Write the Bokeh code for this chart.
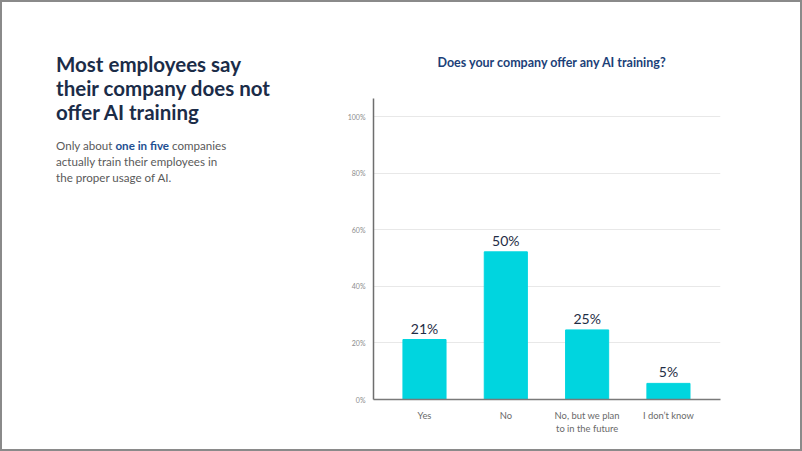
from bokeh.plotting import figure
from bokeh.layouts import row
from bokeh.models import Range1d, FixedTicker, Div
from bokeh.embed import file_html
from bokeh.resources import INLINE
from bokeh.core.properties import value

categories = ["Yes", "No", "No, but we plan\nto in the future", "I don\u2019t know"]
shares = [21.2, 52.2, 24.6, 5.7]
share_labels = ["21%", "50%", "25%", "5%"]
y_ticks = [0, 20, 40, 60, 80, 100]
headline = ["Most employees say", "their company does not", "offer AI training"]
chart_title = "Does your company offer any AI training?"
para_before, para_bold, para_after = "Only about ", "one in five", " companies"
para_rest = ["actually train their employees in", "the proper usage of AI."]
xs = list(range(len(categories)))

FONT = "Lato"
H = 451
LW = 300
RW = 502

# ---------------- left text panel ----------------
head_html = "<br>".join(headline)
para_html = (para_before + f'<b style="color:#1d4f91;font-weight:700">{para_bold}</b>'
             + para_after + "<br>" + "<br>".join(para_rest))
html = (
    f'<div style="position:relative;width:{LW}px;height:{H}px;font-family:{FONT};">'
    f'<div style="position:absolute;left:56px;top:53px;font-size:20.5px;line-height:23.8px;'
    f'font-weight:700;color:#1b2c48;white-space:nowrap;">{head_html}</div>'
    f'<div style="position:absolute;left:56px;top:137.5px;font-size:11.6px;line-height:16px;'
    f'color:#5a5a5a;white-space:nowrap;">{para_html}</div>'
    '</div>'
)
t = Div(text=html, width=LW, height=H, styles={"margin": "0", "padding": "0"})

# ---------------- chart panel ----------------
p = figure(width=RW, height=H, output_backend="svg", toolbar_location=None,
           x_range=Range1d(-0.627, 3.64), y_range=Range1d(0, 106.4),
           min_border_left=73, min_border_right=82, min_border_top=98, min_border_bottom=52,
           title=chart_title)
p.outline_line_color = None
p.background_fill_alpha = 0
p.border_fill_alpha = 0
p.title.text_font = FONT
p.title.text_font_size = "12.5px"
p.title.text_font_style = "bold"
p.title.text_color = "#1c3f78"
p.title.align = "left"
p.title.offset = 64
p.title.standoff = 58

p.vbar(x=xs, top=shares, width=0.53, color="#00d5df")
p.text(x=xs, y=shares, text=share_labels, y_offset=-3, text_align="center",
       text_baseline="bottom", text_font=value(FONT), text_font_size="14px",
       text_color="#1f2d45")

p.yaxis.ticker = FixedTicker(ticks=y_ticks)
p.yaxis.major_label_overrides = {v: f"{v}%" for v in y_ticks}
p.yaxis.major_tick_line_color = None
p.yaxis.minor_tick_line_color = None
p.yaxis.axis_line_color = "#6e6e6e"
p.yaxis.axis_line_width = 1.5
p.yaxis.major_label_text_font = FONT
p.yaxis.major_label_text_font_size = "7px"
p.yaxis.major_label_text_color = "#8c8c8c"
p.yaxis.major_label_standoff = 2

p.xaxis.ticker = FixedTicker(ticks=xs)
p.xaxis.major_label_overrides = {i: c for i, c in zip(xs, categories)}
p.xaxis.major_tick_line_color = None
p.xaxis.minor_tick_line_color = None
p.xaxis.axis_line_color = "#7a7a7a"
p.xaxis.axis_line_width = 1.5
p.xaxis.major_label_text_font = FONT
p.xaxis.major_label_text_font_size = "9.4px"
p.xaxis.major_label_text_color = "#6a6a6a"
p.xaxis.major_label_standoff = 4

p.xgrid.grid_line_color = None
p.ygrid.grid_line_color = "#e8e8e8"
p.ygrid.grid_line_width = 1

layout = row(t, p, spacing=0, width=LW + RW, height=H,
             styles={"outline": "2px solid #8a8a8a", "outline-offset": "-2px"})
open("out.html", "w").write(file_html(layout, INLINE))
